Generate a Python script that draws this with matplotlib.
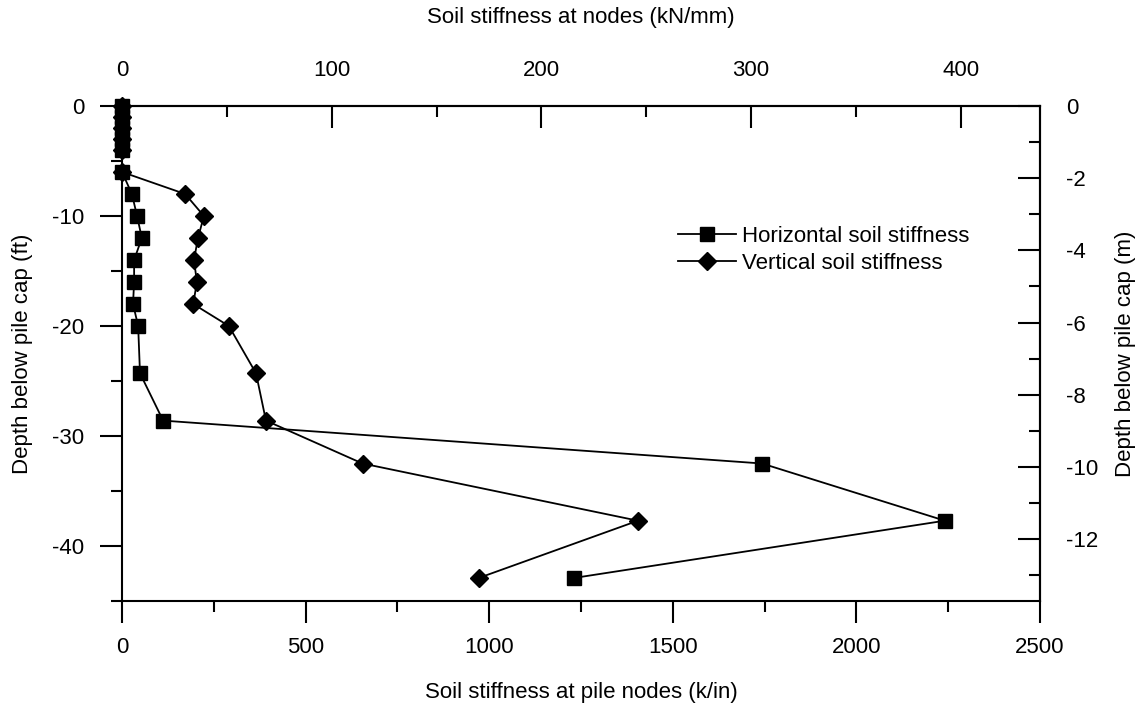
import matplotlib
matplotlib.use("Agg")
import matplotlib.pyplot as plt
from matplotlib.ticker import MultipleLocator, FixedLocator

plt.rcParams['font.family'] = ['Liberation Sans', 'DejaVu Sans']
plt.rcParams['font.size'] = 16
plt.rcParams['axes.unicode_minus'] = False

# Depth of each pile node below the cap (ft)
depth_ft = [0, -1, -2, -3, -4, -6, -8, -10, -12, -14, -16, -18, -20,
            -24.3, -28.6, -32.5, -37.7, -42.9]
# Soil spring stiffness at each node (k/in)
horizontal_kin = [0, 0, 0, 0, 0, 0, 27, 41, 54, 33, 33, 30, 44,
                  49, 112, 1743, 2241, 1232]
vertical_kin = [0, 0, 0, 0, 0, 0, 172, 223, 207, 196, 204, 194, 291,
                365, 392, 655, 1405, 972]

KIN_PER_KNMM = 0.224809 / 0.0393701   # 1 kN/mm in k/in
M_PER_FT = 0.3048

fig = plt.figure(figsize=(11.41, 7.09), dpi=100)
ax = fig.add_axes([122 / 1141, 108 / 709, 918 / 1141, 495 / 709])

ax.plot(horizontal_kin, depth_ft, color='black', lw=1.3, marker='s',
        ms=10, mfc='black', mec='black', label='Horizontal soil stiffness',
        clip_on=False, zorder=3)
ax.plot(vertical_kin, depth_ft, color='black', lw=1.3, marker='D',
        ms=9, mfc='black', mec='black', label='Vertical soil stiffness',
        clip_on=False, zorder=3)

ax.set_xlim(0, 2500)
ax.set_ylim(-45, 0)

for s in ax.spines.values():
    s.set_linewidth(1.5)

ax.xaxis.set_major_locator(MultipleLocator(500))
ax.xaxis.set_minor_locator(FixedLocator([250, 750, 1250, 1750, 2250]))
ax.yaxis.set_major_locator(MultipleLocator(10))
ax.yaxis.set_minor_locator(FixedLocator([-5, -15, -25, -35, -45]))
ax.tick_params(axis='x', which='major', direction='out', length=16, width=1.5, pad=10)
ax.tick_params(axis='x', which='minor', direction='out', length=8, width=1.5)
ax.tick_params(axis='y', which='major', direction='out', length=16, width=1.5, pad=11)
ax.tick_params(axis='y', which='minor', direction='out', length=8, width=1.5)

ax.set_xlabel('Soil stiffness at pile nodes (k/in)')
ax.xaxis.set_label_coords(0.5, -0.184)
ax.xaxis.label.set_verticalalignment('center')
ax.set_ylabel('Depth below pile cap (ft)')
ax.yaxis.set_label_coords(-0.108, 0.5)
ax.yaxis.label.set_verticalalignment('center')

# Top axis in kN/mm
top = ax.secondary_xaxis('top', functions=(lambda x: x / KIN_PER_KNMM,
                                           lambda x: x * KIN_PER_KNMM))
top.xaxis.set_major_locator(FixedLocator([0, 100, 200, 300, 400]))
top.xaxis.set_minor_locator(FixedLocator([50, 150, 250, 350]))
top.tick_params(axis='x', which='major', direction='in', length=16, width=1.5, pad=18)
top.tick_params(axis='x', which='minor', direction='in', length=8, width=1.5)
top.spines['top'].set_linewidth(1.5)
top.set_xlabel('Soil stiffness at nodes (kN/mm)')
top.xaxis.set_label_coords(0.5, 1.178, transform=ax.transAxes)
top.xaxis.label.set_verticalalignment('center')

# Right axis in metres
right = ax.secondary_yaxis('right', functions=(lambda y: y * M_PER_FT,
                                               lambda y: y / M_PER_FT))
right.yaxis.set_major_locator(FixedLocator([0, -2, -4, -6, -8, -10, -12]))
right.yaxis.set_minor_locator(FixedLocator([-1, -3, -5, -7, -9, -11, -13]))
right.tick_params(axis='y', which='major', direction='in', length=16, width=1.5, pad=19)
right.tick_params(axis='y', which='minor', direction='in', length=8, width=1.5)
right.spines['right'].set_linewidth(1.5)
right.set_ylabel('Depth below pile cap (m)')
right.yaxis.set_label_coords(1.0926, 0.5, transform=ax.transAxes)
right.yaxis.label.set_verticalalignment('center')

ax.legend(loc='upper left', bbox_to_anchor=(0.6057, 0.7576), frameon=False,
          borderaxespad=0, borderpad=0, handlelength=2.6, handletextpad=0.3,
          labelspacing=0.25, fontsize=16)

fig.savefig('out.png', dpi=100)
